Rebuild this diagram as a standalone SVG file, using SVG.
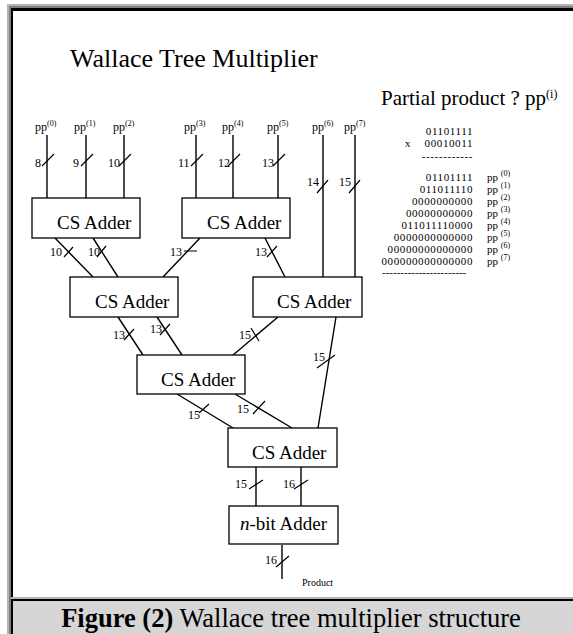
<svg xmlns="http://www.w3.org/2000/svg" width="573" height="634" viewBox="0 0 573 634">
<style>
text{font-family:"Liberation Serif","Times New Roman",serif;fill:#000}
.box{fill:#fff;stroke:#000;stroke-width:1.3}
.lbl{font-size:19px}
.n{font-size:12px}
.sup{font-size:8px}
.w{stroke:#000;stroke-width:1.4;fill:none}
.s{stroke:#000;stroke-width:1.2;fill:none}
.mono{font-size:11px;letter-spacing:0.6px;text-anchor:end}
.pl{font-size:11px}
</style>
<rect width="573" height="634" fill="#fff"/>
<rect x="7" y="4" width="566" height="630" fill="#b4b4b4"/>
<rect x="9" y="6" width="564" height="628" fill="#808080"/>
<rect x="11" y="8" width="562" height="626" fill="#000"/>
<rect x="13" y="11" width="560" height="586" fill="#fff"/>
<rect x="11" y="597" width="562" height="2" fill="#b4b4b4"/>
<rect x="11" y="599" width="562" height="2" fill="#000"/>
<rect x="13" y="601" width="560" height="33" fill="#d6d6d6"/>
<text x="291" y="627" font-size="26.5" text-anchor="middle"><tspan font-weight="bold">Figure (2)</tspan> Wallace tree multiplier structure</text>

<text x="70" y="67" font-size="26">Wallace Tree Multiplier</text>
<text x="381" y="105" font-size="21">Partial product ? pp<tspan font-size="12" dy="-7">(i)</tspan></text>

<g id="multiplication">
<text class="mono" x="473" y="135">01101111</text>
<text x="405" y="147" class="pl">x</text>
<text class="mono" x="473" y="147">00010011</text>
<text class="mono" x="473" y="160">------------</text>
<text class="mono" x="473" y="181">01101111</text>
<text class="mono" x="473" y="193">011011110</text>
<text class="mono" x="473" y="205">0000000000</text>
<text class="mono" x="473" y="217">00000000000</text>
<text class="mono" x="473" y="229">011011110000</text>
<text class="mono" x="473" y="241">0000000000000</text>
<text class="mono" x="473" y="253">00000000000000</text>
<text class="mono" x="473" y="265">000000000000000</text>
<text x="382" y="276" class="pl">-----------------------</text>
<text class="pl" x="487" y="181">pp <tspan class="sup" dy="-5">(0)</tspan></text>
<text class="pl" x="487" y="193">pp <tspan class="sup" dy="-5">(1)</tspan></text>
<text class="pl" x="487" y="205">pp <tspan class="sup" dy="-5">(2)</tspan></text>
<text class="pl" x="487" y="217">pp <tspan class="sup" dy="-5">(3)</tspan></text>
<text class="pl" x="487" y="229">pp <tspan class="sup" dy="-5">(4)</tspan></text>
<text class="pl" x="487" y="241">pp <tspan class="sup" dy="-5">(5)</tspan></text>
<text class="pl" x="487" y="253">pp <tspan class="sup" dy="-5">(6)</tspan></text>
<text class="pl" x="487" y="265">pp <tspan class="sup" dy="-5">(7)</tspan></text>
</g>

<g id="inputs">
<text class="n" x="35" y="131">pp<tspan class="sup" dy="-5">(0)</tspan></text>
<text class="n" x="74" y="131">pp<tspan class="sup" dy="-5">(1)</tspan></text>
<text class="n" x="113" y="131">pp<tspan class="sup" dy="-5">(2)</tspan></text>
<text class="n" x="184" y="131">pp<tspan class="sup" dy="-5">(3)</tspan></text>
<text class="n" x="222" y="131">pp<tspan class="sup" dy="-5">(4)</tspan></text>
<text class="n" x="267" y="131">pp<tspan class="sup" dy="-5">(5)</tspan></text>
<text class="n" x="312" y="131">pp<tspan class="sup" dy="-5">(6)</tspan></text>
<text class="n" x="344" y="131">pp<tspan class="sup" dy="-5">(7)</tspan></text>
</g>

<g id="connectors">
<path class="w" d="M47 135V198M86 135V198M124 135V198M196 135V198M233 135V198M278 135V198M323 135V277M355 135V277"/>
<path class="s" d="M42 166L54 154M81 166L93 154M119 166L131 154M191 166L203 154M228 166L240 154M273 166L285 154M317 193L328 180M349 193L360 180"/>
<text class="n" x="35" y="167">8</text>
<text class="n" x="73" y="167">9</text>
<text class="n" x="108" y="167">10</text>
<text class="n" x="178" y="167">11</text>
<text class="n" x="218" y="167">12</text>
<text class="n" x="262" y="167">13</text>
<text class="n" x="307" y="186">14</text>
<text class="n" x="339" y="186">15</text>

<path class="w" d="M55 238L93 277M93 238L118 277M200 238L163 277M265 238L285 277"/>
<path class="s" d="M64 257L73 247M97 257L106 246M184 251H197M267 257L277 246"/>
<text class="n" x="50" y="256">10</text>
<text class="n" x="88" y="256">10</text>
<text class="n" x="170" y="256">13</text>
<text class="n" x="255" y="256">13</text>

<path class="w" d="M118 317L143 355M157 317L182 355M278 317L233 355M336 317L318 428"/>
<path class="s" d="M124 340L134 329M160 335L170 324M251 328L259 341M317 368L335 355"/>
<text class="n" x="113" y="339">13</text>
<text class="n" x="150" y="333">13</text>
<text class="n" x="239" y="339">15</text>
<text class="n" x="313" y="361">15</text>

<path class="w" d="M177 394L233 428M235 394L292 428"/>
<path class="s" d="M199 413L209 404M253 414L265 401"/>
<text class="n" x="188" y="419">15</text>
<text class="n" x="237" y="413">15</text>

<path class="w" d="M256 467V506M301 467V506M282 545V579"/>
<path class="s" d="M249 489L263 480M294 489L308 480M276 567L289 556"/>
<text class="n" x="235" y="488">15</text>
<text class="n" x="283" y="488">16</text>
<text class="n" x="265" y="564">16</text>
<text x="302" y="586" font-size="10">Product</text>
</g>

<g id="csa1"><rect class="box" x="32" y="198" width="108" height="40"/><text class="lbl" x="57" y="229">CS Adder</text></g>
<g id="csa2"><rect class="box" x="182" y="198" width="108" height="40"/><text class="lbl" x="207" y="229">CS Adder</text></g>
<g id="csa3"><rect class="box" x="70" y="277" width="108" height="40"/><text class="lbl" x="95" y="308">CS Adder</text></g>
<g id="csa4"><rect class="box" x="253" y="277" width="109" height="40"/><text class="lbl" x="277" y="308">CS Adder</text></g>
<g id="csa5"><rect class="box" x="137" y="355" width="108" height="39"/><text class="lbl" x="161" y="386">CS Adder</text></g>
<g id="csa6"><rect class="box" x="228" y="428" width="109" height="39"/><text class="lbl" x="252" y="459">CS Adder</text></g>
<g id="nbit"><rect class="box" x="229" y="506" width="109" height="38"/><text class="lbl" x="240" y="530"><tspan font-style="italic">n</tspan>-bit Adder</text></g>
</svg>
